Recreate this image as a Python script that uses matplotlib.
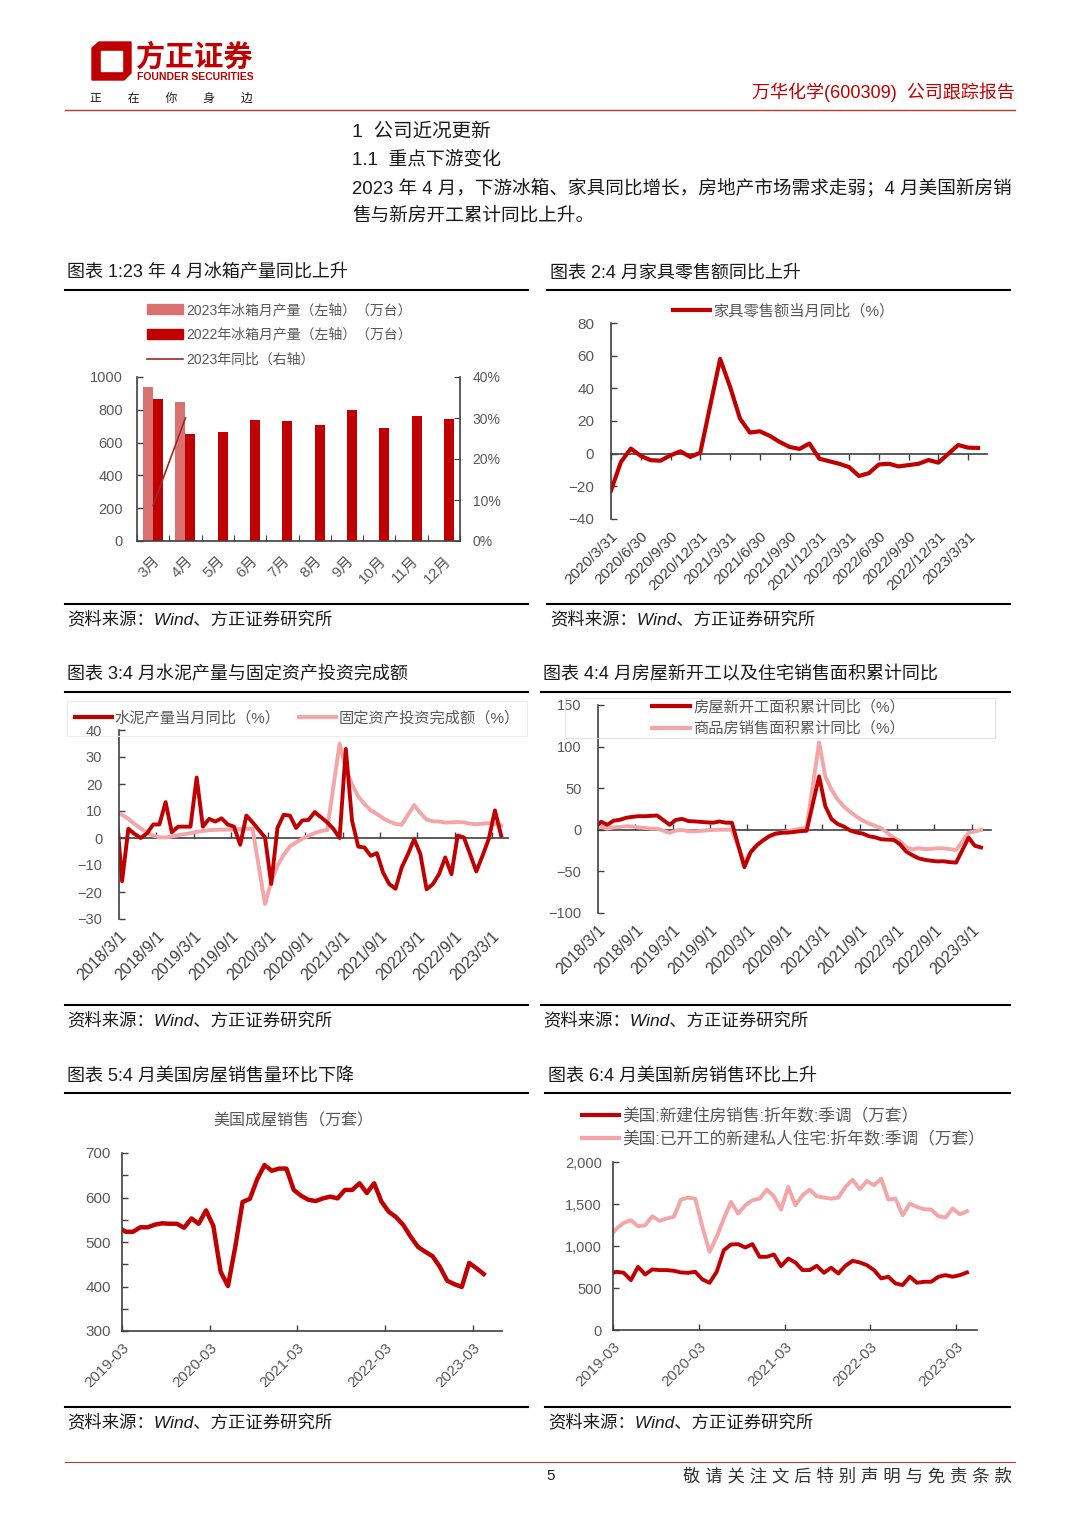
import numpy as np
import matplotlib
matplotlib.use("Agg")
import matplotlib.pyplot as plt
from matplotlib.lines import Line2D
from matplotlib.patches import Patch, Rectangle, Polygon
from matplotlib.ticker import FuncFormatter, MultipleLocator

plt.rcParams['font.family'] = ['Liberation Sans', 'Noto Sans CJK SC', 'DejaVu Sans']

# ---- chart 1: fridge output (万台) and 2023 yoy (%)
fridge_months = ['3月', '4月', '5月', '6月', '7月', '8月', '9月', '10月', '11月', '12月']
fridge_2023 = [940, 845]
fridge_2022 = [865, 650, 665, 735, 730, 705, 800, 690, 760, 745]
fridge_yoy_2023 = [8.7, 30.0]

# ---- chart 2: furniture retail yoy (%), monthly 2020/3 .. 2023/4, None = Jan (merged Jan-Feb)
furniture_yoy = [-22.6, -5.1, 3.1, -1.4, -4.0, -4.3, -1.0, 1.4, -2.0, 0.6,
                 None, 58.0, 41.0, 21.5, 12.9, 13.7, 10.9, 7.2, 4.1, 2.9, 6.2, -3.1,
                 None, -6.2, -8.2, -13.7, -11.9, -6.6, -6.2, -7.8, -7.0, -6.2, -3.9, -5.5,
                 None, 5.3, 3.7, 3.5]
furniture_ticks = ['2020/3/31', '2020/6/30', '2020/9/30', '2020/12/31', '2021/3/31', '2021/6/30',
                   '2021/9/30', '2021/12/31', '2022/3/31', '2022/6/30', '2022/9/30', '2022/12/31',
                   '2023/3/31']

# ---- chart 3: cement output yoy / fixed asset investment yoy (%), monthly 2018/2 .. 2023/4
cement_yoy = [12, -16, 3.4, 1.5, 0, 1.7, 5, 5, 13.3, 2.1, 4.2, 4.2, 4.2, 22.4, 4.2, 7.1, 6.1,
              7.3, 5, 4.2, -2.5, 8.3, 5.8, 3, 0.2, -17, 3.7, 8.6, 8.3, 3.7, 6.5, 6.7, 9.6, 7.7,
              5.8, 3.4, 0, 33, 6.5, -3.2, -3.5, -6.6, -5.6, -12.8, -17.1, -18.8, -10.9, -6,
              -0.4, -6, -19, -17.1, -13.4, -7.2, -13.4, 0.9, 0.2, -6, -12.4, -6.6, -0.4, 10.2, 0.9]
fai_yoy = [9.2, 8.6, 7.1, 5.2, 3.5, 2.0, 0.9, 0.3, 0.2, 0.6, 1.0,
           None, 1.8, 2.3, 2.6, 2.9, 3.0, 3.1, 3.1, 3.2, 3.3, 3.4, 3.4,
           None, -24.5, -16.1, -10.3, -6.3, -3.1, -1.6, -0.3, 0.8, 1.8, 2.6, 2.9,
           None, 35.0, 25.6, 19.9, 15.4, 12.6, 10.3, 8.9, 7.3, 6.1, 5.2, 4.9,
           None, 12.2, 9.3, 6.8, 6.2, 6.1, 5.7, 5.8, 5.9, 5.8, 5.3, 5.1,
           None, 5.5, 5.1, 4.7]

# ---- chart 4: new starts area / sales area, cumulative yoy (%), monthly 2018/2 .. 2023/4
starts_yoy = [2.9, 9.7, 6.0, 11.0, 12.0, 14.4, 15.5, 16.4, 16.3, 16.8, 17.2,
              None, 6.0, 11.9, 13.1, 10.5, 10.1, 9.5, 8.9, 8.6, 10.0, 8.6, 8.5,
              None, -44.9, -27.2, -18.4, -12.8, -7.6, -4.5, -3.6, -3.4, -2.6, -1.6, -1.2,
              None, 64.3, 28.2, 12.8, 6.9, 3.8, -0.9, -3.2, -4.5, -7.7, -9.1, -11.4,
              None, -12.2, -17.5, -26.3, -30.6, -34.4, -36.1, -37.2, -38.0, -37.8, -38.9, -39.4,
              None, -9.4, -19.2, -21.2]
sales_yoy = [4.1, 3.6, 1.3, 2.9, 3.3, 4.2, 4.0, 2.9, 2.2, 1.4, 1.3,
             None, -3.6, -0.9, -0.3, -1.6, -1.8, -1.3, -0.6, -0.1, 0.1, 0.2, -0.1,
             None, -39.9, -26.3, -19.3, -12.3, -8.4, -5.8, -3.3, -1.8, 0.0, 1.3, 2.6,
             None, 104.9, 63.8, 48.1, 36.3, 27.7, 21.5, 15.9, 11.3, 7.5, 4.8, 1.9,
             None, -9.6, -13.8, -20.9, -23.6, -22.2, -23.1, -23.0, -22.2, -22.3, -23.3, -24.3,
             None, -3.6, -1.8, -0.4]
china_ticks = ['2018/3/1', '2018/9/1', '2019/3/1', '2019/9/1', '2020/3/1', '2020/9/1',
               '2021/3/1', '2021/9/1', '2022/3/1', '2022/9/1', '2023/3/1']

# ---- chart 5/6: US housing (万套), monthly 2019/2 .. 2023/4
us_existing = [533, 523, 523, 533, 533, 539, 542, 541, 541, 532, 553, 541, 571, 536, 433, 401,
               489, 590, 597, 641, 673, 660, 665, 665, 617, 604, 595, 592, 598, 602, 598, 617,
               617, 632, 610, 632, 591, 568, 556, 538, 512, 489, 478, 468, 444, 413, 405, 399,
               453, 441, 428]
us_new_sales = [669, 693, 681, 594, 752, 661, 721, 713, 713, 705, 685, 681, 693, 602, 562, 693,
                950, 1018, 1022, 982, 1022, 871, 871, 899, 760, 851, 804, 713, 713, 764, 681,
                741, 673, 764, 824, 804, 772, 713, 614, 634, 554, 535, 634, 562, 574, 574, 634,
                653, 634, 653, 685]
us_starts = [1104, 1208, 1275, 1307, 1236, 1248, 1354, 1299, 1327, 1347, 1552, 1576, 1564,
             1228, 931, 1109, 1327, 1525, 1386, 1485, 1545, 1564, 1671, 1592, 1434, 1703, 1485,
             1604, 1671, 1592, 1576, 1564, 1576, 1703, 1790, 1675, 1774, 1723, 1802, 1552,
             1564, 1366, 1505, 1465, 1438, 1434, 1354, 1339, 1446, 1378, 1414]
us_ticks = ['2019-03', '2020-03', '2021-03', '2022-03', '2023-03']

DARK = '#C00000'
PINK = '#F3A5A8'
SALMON = '#D87170'
AXIS = '#404040'
GREY = '#595959'
TXT = '#1A1A1A'

W, H = 1080, 1527
fig = plt.figure(figsize=(W / 100, H / 100), dpi=100)


def box(l, t, r, b):
    # axes from pixel edges of the page
    return fig.add_axes([l / W, 1 - b / H, (r - l) / W, (b - t) / H])


def ftext(x, y, s, **kw):
    kw.setdefault('va', 'center')
    kw.setdefault('color', TXT)
    fig.text(x / W, 1 - y / H, s, **kw)


def hline(x0, x1, y, color='black', lw=1.5):
    fig.add_artist(Line2D([x0 / W, x1 / W], [1 - y / H, 1 - y / H], color=color, lw=lw,
                          transform=fig.transFigure))


def frame(l, t, r, b, color):
    fig.add_artist(Rectangle((l / W, 1 - b / H), (r - l) / W, (b - t) / H, fill=False,
                             edgecolor=color, lw=0.8, transform=fig.transFigure))


def style(ax, size=10.5, pad=10):
    for s in ['top', 'right']:
        ax.spines[s].set_visible(False)
    for s in ['left', 'bottom']:
        ax.spines[s].set_color(AXIS)
        ax.spines[s].set_linewidth(1.2)
    ax.tick_params(axis='y', direction='in', length=4, width=1, color=AXIS,
                   labelsize=size, labelcolor=GREY, pad=pad)
    ax.tick_params(axis='x', labelsize=10.5, labelcolor=AXIS)


def rot_labels(ax):
    plt.setp(ax.get_xticklabels(), rotation=45, ha='right', va='top', rotation_mode='anchor')


def zero_axis(ax, ticks, direction):
    # x axis line at y=0 with ticks, labels stay at the bottom
    ax.spines['bottom'].set_visible(False)
    ax.tick_params(axis='x', length=0, pad=7)
    sec = ax.secondary_xaxis(0, transform=ax.transData)
    sec.set_xticks(ticks)
    sec.tick_params(axis='x', labelbottom=False, direction=direction, length=4, width=1, color=AXIS)
    sec.spines['bottom'].set_color(AXIS)
    sec.spines['bottom'].set_linewidth(1.2)


def plot_gaps(ax, x, vals, **kw):
    y = np.array(vals, dtype=float)
    m = ~np.isnan(y)
    ax.plot(x[m], y[m], **kw)


# ---------------- page header
logo = [(92, 48), (99, 42), (131, 42), (131, 73), (124, 80), (92, 80)]
hole = [(101, 51), (122, 51), (122, 71), (101, 71)]
for pts, c in [(logo, DARK), (hole, 'white')]:
    fig.add_artist(Polygon([(x / W, 1 - y / H) for x, y in pts], closed=True, color=c,
                           transform=fig.transFigure))
ftext(136, 57, '方正证券', fontsize=21, fontweight='bold', color=DARK)
ftext(137, 77, 'FOUNDER SECURITIES', fontsize=7.5, fontweight='bold', color=DARK)
ftext(90, 99, '正        在        你        身        边', fontsize=8.5)
ftext(1015, 92, '万华化学(600309)  公司跟踪报告', fontsize=13, color=DARK, ha='right')
hline(65, 1015, 110, color='#C0392B', lw=1)

ftext(352, 132, '1  公司近况更新', fontsize=14)
ftext(352, 160, '1.1  重点下游变化', fontsize=13.5)
ftext(352, 188, '2023 年 4 月，下游冰箱、家具同比增长，房地产市场需求走弱；4 月美国新房销',
      fontsize=13.4)
ftext(352, 216, '售与新房开工累计同比上升。', fontsize=13.4)

# ---------------- chart frames: titles, rules, sources
titles = [(67, 273, '图表 1:23 年 4 月冰箱产量同比上升', 65, 528, 290, 604),
          (550, 273, '图表 2:4 月家具零售额同比上升', 547, 1010, 290, 604),
          (67, 675, '图表 3:4 月水泥产量与固定资产投资完成额', 65, 528, 692, 1005),
          (543, 675, '图表 4:4 月房屋新开工以及住宅销售面积累计同比', 541, 1010, 692, 1005),
          (67, 1077, '图表 5:4 月美国房屋销售量环比下降', 65, 528, 1093, 1407),
          (548, 1077, '图表 6:4 月美国新房销售环比上升', 545, 1010, 1093, 1407)]
for tx, ty, t, x0, x1, ytop, ybot in titles:
    ftext(tx, ty, t, fontsize=13)
    hline(x0, x1, ytop, lw=1.5)
    hline(x0, x1, ybot, lw=1.5)
    ftext(tx, ybot + 15, '资料来源：Wind、方正证券研究所', fontsize=12.5, style='italic')

# ---------------- chart 1
ax1 = box(137, 377, 460, 541)
style(ax1, 10.5, 10)
xc = np.arange(len(fridge_months))
bw = 0.31
ax1.bar(xc[:len(fridge_2023)], fridge_2023, width=-bw, align='edge', color=SALMON)
ax1.bar(xc, fridge_2022, width=bw, align='edge', color=DARK)
ax1.set_xlim(-0.5, len(xc) - 0.5)
ax1.set_ylim(0, 1000)
ax1.set_yticks(range(0, 1001, 200))
ax1.set_xticks(np.arange(len(xc) + 1) - 0.5)
ax1.set_xticklabels([])
ax1.set_xticks(xc, minor=True)
ax1.set_xticklabels(fridge_months, minor=True)
ax1.tick_params(axis='x', which='major', direction='in', length=4, color=AXIS)
ax1.tick_params(axis='x', which='minor', length=0, pad=9, labelsize=11, labelcolor=GREY)
plt.setp(ax1.get_xticklabels(minor=True), rotation=45, ha='right', va='top',
         rotation_mode='anchor')
ax1r = ax1.twinx()
ax1r.plot(xc[:len(fridge_yoy_2023)], fridge_yoy_2023, color='#A3262A', lw=1.2)
ax1r.set_ylim(0, 40)
ax1r.set_yticks(range(0, 41, 10))
ax1r.yaxis.set_major_formatter(FuncFormatter(lambda v, p: f'{v:.0f}%'))
for s in ['top', 'left', 'bottom']:
    ax1r.spines[s].set_visible(False)
ax1r.spines['right'].set_color(AXIS)
ax1r.spines['right'].set_linewidth(1.2)
ax1r.tick_params(axis='y', direction='in', length=4, color=AXIS, labelsize=10, labelcolor=GREY,
                 pad=9)
fig.legend([Patch(color=SALMON), Patch(color=DARK), Line2D([], [], color='#A3262A', lw=1.2)],
           ['2023年冰箱月产量（左轴）（万台）', '2022年冰箱月产量（左轴）（万台）', '2023年同比（右轴）'],
           loc='upper left', bbox_to_anchor=(147 / W, 1 - 303 / H), frameon=False, fontsize=10,
           handlelength=2.6, handleheight=0.7, labelspacing=0.78, handletextpad=0.2,
           borderpad=0, borderaxespad=0, labelcolor=GREY)

# ---------------- chart 2
ax2 = box(611, 323, 987, 519)
style(ax2, 11, 12)
x2 = np.arange(len(furniture_yoy))
plot_gaps(ax2, x2, furniture_yoy, color=DARK, lw=3)
ax2.set_xlim(0, 37.9)
ax2.set_ylim(-40, 80)
ax2.set_yticks(range(-40, 81, 20))
ax2.set_xticks(x2[::3], furniture_ticks)
zero_axis(ax2, x2[::3], 'out')
ax2.tick_params(axis='x', labelsize=11)
rot_labels(ax2)
fig.legend([Line2D([], [], color=DARK, lw=3)], ['家具零售额当月同比（%）'], loc='center left',
           bbox_to_anchor=(673 / W, 1 - 311 / H), frameon=False, fontsize=11,
           handlelength=2.4, handletextpad=0.2, borderpad=0, borderaxespad=0, labelcolor=GREY)

# ---------------- chart 3
ax3 = box(119, 730, 508, 919)
style(ax3, 10.5, 12)
x3 = np.arange(len(cement_yoy)) - 0.5
plot_gaps(ax3, x3, fai_yoy, color=PINK, lw=2.8)
plot_gaps(ax3, x3, cement_yoy, color=DARK, lw=2.8)
ax3.set_xlim(0, 62.6)
ax3.set_ylim(-30, 40)
ax3.set_yticks(range(-30, 41, 10))
tk = np.arange(0, 61, 6)
ax3.set_xticks(tk, china_ticks)
zero_axis(ax3, tk, 'in')
ax3.tick_params(axis='x', labelsize=11.5)
rot_labels(ax3)
frame(67, 701, 527, 736, '#EDEDED')
fig.legend([Line2D([], [], color=DARK, lw=3), Line2D([], [], color=PINK, lw=3)],
           ['水泥产量当月同比（%）', '固定资产投资完成额（%）'], loc='center left', ncol=2,
           bbox_to_anchor=(75 / W, 1 - 718 / H), frameon=False, fontsize=11,
           handlelength=2.4, handletextpad=0.2, columnspacing=1.2, borderpad=0,
           borderaxespad=0, labelcolor=GREY)

# ---------------- chart 4
ax4 = box(598, 705, 991, 913)
style(ax4, 10.5, 12)
x4 = np.arange(len(starts_yoy)) - 0.5
plot_gaps(ax4, x4, sales_yoy, color=PINK, lw=2.8)
plot_gaps(ax4, x4, starts_yoy, color=DARK, lw=2.8)
ax4.set_xlim(0, 63.1)
ax4.set_ylim(-100, 150)
ax4.set_yticks(range(-100, 151, 50))
ax4.set_xticks(tk, china_ticks)
zero_axis(ax4, tk, 'in')
ax4.tick_params(axis='x', labelsize=11.5)
rot_labels(ax4)
frame(565, 698, 995, 738, '#E3E3E3')
fig.legend([Line2D([], [], color=DARK, lw=3), Line2D([], [], color=PINK, lw=3)],
           ['房屋新开工面积累计同比（%）', '商品房销售面积累计同比（%）'], loc='upper left',
           bbox_to_anchor=(652 / W, 1 - 700 / H), frameon=False, fontsize=11,
           handlelength=2.5, handletextpad=0.2, labelspacing=0.45, borderpad=0,
           borderaxespad=0, labelcolor=GREY)

# ---------------- chart 5
ax5 = box(122, 1153, 502, 1331)
style(ax5, 11, 8)
x5 = np.arange(len(us_existing)) - 0.5
ax5.plot(x5, us_existing, color=DARK, lw=3.2)
ax5.set_xlim(0, 52)
ax5.set_ylim(300, 700)
ax5.set_yticks(range(300, 701, 100))
ax5.yaxis.set_minor_locator(MultipleLocator(50))
ax5.tick_params(axis='y', which='minor', direction='in', length=4, width=1, color=AXIS)
ax5.set_xticks(np.arange(0, 49, 12), us_ticks)
ax5.tick_params(axis='x', direction='in', length=4, width=1, color=AXIS, labelcolor=GREY,
                labelsize=11, pad=7)
rot_labels(ax5)
ftext(293, 1121, '美国成屋销售（万套）', fontsize=11.5, color=GREY, ha='center')

# ---------------- chart 6
ax6 = box(613, 1162, 977, 1330)
style(ax6, 10.5, 8)
x6 = np.arange(len(us_new_sales)) - 0.5
ax6.plot(x6, us_starts, color=PINK, lw=2.8)
ax6.plot(x6, us_new_sales, color=DARK, lw=2.8)
ax6.set_xlim(0, 50.9)
ax6.set_ylim(0, 2000)
ax6.set_yticks(range(0, 2001, 500))
ax6.yaxis.set_major_formatter(FuncFormatter(lambda v, p: f'{v:,.0f}'))
ax6.set_xticks(np.arange(0, 49, 12), us_ticks)
ax6.tick_params(axis='x', direction='in', length=4, width=1, color=AXIS, labelcolor=GREY,
                labelsize=11, pad=7)
rot_labels(ax6)
fig.legend([Line2D([], [], color=DARK, lw=3), Line2D([], [], color=PINK, lw=3)],
           ['美国:新建住房销售:折年数:季调（万套）', '美国:已开工的新建私人住宅:折年数:季调（万套）'],
           loc='upper left', bbox_to_anchor=(582 / W, 1 - 1108 / H), frameon=False,
           fontsize=12, handlelength=2.2, handletextpad=0.2, labelspacing=0.4,
           borderpad=0, borderaxespad=0, labelcolor=GREY)

# ---------------- footer
hline(65, 1015, 1462, color='#B0413E', lw=0.8)
ftext(546, 1476, '5', fontsize=11)
ftext(1012, 1476, ' '.join('敬请关注文后特别声明与免责条款'), fontsize=12.5, ha='right', color='#333333')

fig.savefig('out.png', dpi=100)
